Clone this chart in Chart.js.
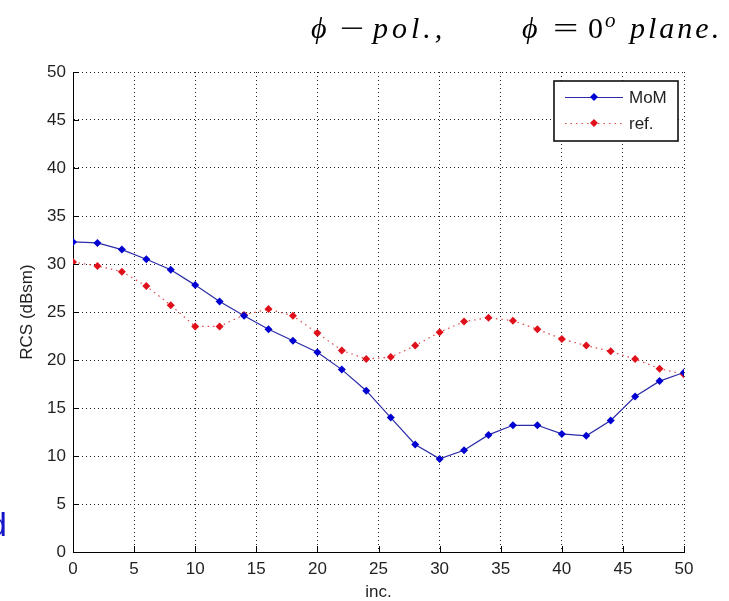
<!DOCTYPE html>
<html>
<head>
<meta charset="utf-8">
<script src="https://cdn.jsdelivr.net/npm/chart.js@4/dist/chart.umd.min.js"></script>
<style>
  html, body { margin:0; padding:0; background:#fff; }
  #wrap { position:relative; width:729px; height:601px; overflow:hidden; }
  canvas { position:absolute; left:0; top:0; }
  .t { position:absolute; font-family:"Liberation Serif","Times New Roman",serif; font-size:30px; line-height:30px; color:#000; white-space:nowrap; transform-origin:left center; }
  .it { font-style:italic; }
  #stray { position:absolute; left:-12px; top:507px; font-family:"Liberation Sans",Arial,sans-serif; font-size:34px; line-height:34px; color:#1414c8; }
</style>
</head>
<body>
<div id="wrap">
  <canvas id="c" width="729" height="601"></canvas>
  <span class="t it" style="left:311px; top:13px;">ϕ</span>
  <span class="t" style="left:340px; top:13px; transform:scaleX(1.45);">−</span>
  <span class="t it" style="left:373px; top:13px; letter-spacing:4px;">pol.,</span>
  <span class="t it" style="left:522px; top:13px;">ϕ</span>
  <span class="t" style="left:553px; top:13px; transform:scaleX(1.5);">=</span>
  <span class="t" style="left:588px; top:13px;">0</span>
  <span class="t it" style="left:605px; top:10px; font-size:21px; line-height:21px;">o</span>
  <span class="t it" style="left:630px; top:13px; letter-spacing:3px;">plane.</span>
  <div id="stray">d</div>
</div>
<script>
// ---- data ----
const incAngles = [0, 2, 4, 6, 8, 10, 12, 14, 16, 18, 20, 22, 24, 26, 28, 30, 32, 34, 36, 38, 40, 42, 44, 46, 48, 50];
const momValues = [32.3, 32.2, 31.5, 30.5, 29.4, 27.8, 26.1, 24.6, 23.2, 22.0, 20.8, 19.0, 16.8, 14.0, 11.2, 9.7, 10.6, 12.2, 13.2, 13.2, 12.3, 12.1, 13.7, 16.2, 17.8, 18.7];
const refValues = [30.2, 29.8, 29.2, 27.7, 25.7, 23.5, 23.5, 24.7, 25.3, 24.6, 22.8, 21.0, 20.1, 20.3, 21.5, 22.9, 24.0, 24.4, 24.1, 23.2, 22.2, 21.5, 20.9, 20.1, 19.1, 18.5];
const xTicks = [0, 5, 10, 15, 20, 25, 30, 35, 40, 45, 50];
const yTicks = [0, 5, 10, 15, 20, 25, 30, 35, 40, 45, 50];
const seriesNames = ['MoM', 'ref.'];
const xTitle = 'inc.';
const yTitle = 'RCS (dBsm)';

const FONT = '"Liberation Sans", Arial, sans-serif';
const TXT = '#1f1f1f';

const inwardTicks = {
  id: 'inwardTicks',
  afterDatasetsDraw(chart) {
    const ctx = chart.ctx, ca = chart.chartArea;
    const xs = chart.scales.x, ys = chart.scales.y;
    ctx.save();
    ctx.strokeStyle = '#000';
    ctx.lineWidth = 1;
    ctx.beginPath();
    xTicks.forEach(v => {
      const px = Math.round(xs.getPixelForValue(v)) + 0.5;
      ctx.moveTo(px, ca.bottom); ctx.lineTo(px, ca.bottom - 6);
    });
    yTicks.forEach(v => {
      const py = Math.round(ys.getPixelForValue(v)) + 0.5;
      ctx.moveTo(ca.left, py); ctx.lineTo(ca.left + 6, py);
    });
    ctx.stroke();
    ctx.restore();
  }
};

const legendBox = {
  id: 'legendBox',
  afterDraw(chart) {
    const ctx = chart.ctx, ca = chart.chartArea;
    const w = 124, h = 60;
    const x0 = ca.right - 6 - w, y0 = ca.top + 9;
    ctx.save();
    ctx.fillStyle = '#fff';
    ctx.fillRect(x0, y0, w, h);
    ctx.strokeStyle = '#111';
    ctx.lineWidth = 1.6;
    ctx.strokeRect(x0, y0, w, h);
    chart.data.datasets.forEach((ds, i) => {
      const y = y0 + 16 + i * 26;
      ctx.beginPath();
      ctx.setLineDash(ds.borderDash || []);
      ctx.strokeStyle = ds.borderColor;
      ctx.lineWidth = 1;
      ctx.moveTo(x0 + 11, y + 0.5); ctx.lineTo(x0 + 69, y + 0.5);
      ctx.stroke();
      ctx.setLineDash([]);
      ctx.fillStyle = ds.pointBackgroundColor;
      ctx.beginPath();
      const cx = x0 + 40, r = 4;
      ctx.moveTo(cx, y - r); ctx.lineTo(cx + r, y); ctx.lineTo(cx, y + r); ctx.lineTo(cx - r, y); ctx.closePath();
      ctx.fill();
      ctx.fillStyle = TXT;
      ctx.font = '17px ' + FONT;
      ctx.textBaseline = 'middle';
      ctx.textAlign = 'left';
      ctx.fillText(ds.label, x0 + 75, y + 1);
    });
    ctx.restore();
  }
};

new Chart(document.getElementById('c'), {
  type: 'line',
  data: {
    datasets: [
      {
        label: seriesNames[0],
        data: incAngles.map((x, i) => ({ x: x, y: momValues[i] })),
        borderColor: '#2b2ba8',
        borderWidth: 1.2,
        pointStyle: 'rectRot',
        pointRadius: 4,
        pointBackgroundColor: '#0000d2',
        pointBorderColor: '#0000d2',
        pointBorderWidth: 0,
        tension: 0
      },
      {
        label: seriesNames[1],
        data: incAngles.map((x, i) => ({ x: x, y: refValues[i] })),
        borderColor: '#e04848',
        borderWidth: 1.2,
        borderDash: [1.5, 4],
        pointStyle: 'rectRot',
        pointRadius: 4,
        pointBackgroundColor: '#e0101a',
        pointBorderColor: '#e0101a',
        pointBorderWidth: 0,
        tension: 0
      }
    ]
  },
  options: {
    responsive: false,
    animation: false,
    devicePixelRatio: 1,
    layout: { padding: { left: 0, top: 72, right: 45, bottom: 0 } },
    plugins: { legend: { display: false }, tooltip: { enabled: false }, title: { display: false } },
    scales: {
      x: {
        type: 'linear', min: 0, max: 50,
        afterBuildTicks: s => { s.ticks = xTicks.map(v => ({ value: v })); },
        afterFit: s => { s.height = 49; },
        grid: { color: '#222', lineWidth: 1, drawTicks: false },
        border: { display: true, color: '#000', width: 1, dash: [1, 3] },
        ticks: { color: TXT, font: { family: FONT, size: 17 }, padding: 7, maxRotation: 0, autoSkip: false },
        title: { display: true, text: xTitle, color: TXT, font: { family: FONT, size: 17, lineHeight: 1 }, padding: { top: 0, bottom: 0 } }
      },
      y: {
        type: 'linear', min: 0, max: 50,
        afterBuildTicks: s => { s.ticks = yTicks.map(v => ({ value: v })); },
        afterFit: s => { s.width = 73; },
        grid: { color: '#222', lineWidth: 1, drawTicks: false },
        border: { display: true, color: '#000', width: 1, dash: [1, 3] },
        ticks: { color: TXT, font: { family: FONT, size: 17 }, padding: 7, autoSkip: false },
        title: { display: true, text: yTitle, color: TXT, font: { family: FONT, size: 17, lineHeight: 1 }, padding: { top: 19, bottom: 0 } }
      }
    }
  },
  plugins: [inwardTicks, legendBox]
});
</script>
</body>
</html>
